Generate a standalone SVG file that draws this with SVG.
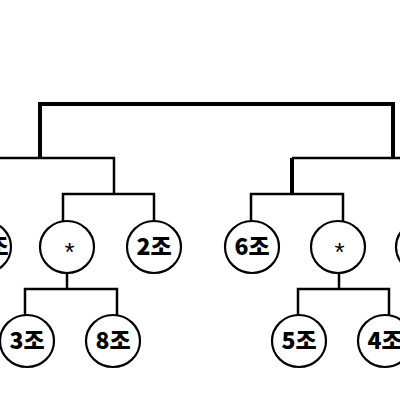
<svg xmlns="http://www.w3.org/2000/svg" width="400" height="400" viewBox="0 0 400 400">
<style>
.thin{fill:none;stroke:#000;stroke-width:2.5}
.thick{fill:none;stroke:#000;stroke-width:4}
.node ellipse{fill:#fff;stroke:#000;stroke-width:2.2}
.lbl{font-family:"Noto Sans CJK KR","Liberation Sans",sans-serif;font-weight:900;font-size:23px;text-anchor:middle;fill:#000}
.star{font-family:"Liberation Sans",sans-serif;font-size:26px;text-anchor:middle;fill:#000}
</style>
<rect width="400" height="400" fill="#fff"/>
<g id="connectors">
<path class="thick" d="M40,158 V104 H393 V158"/>
<path class="thin" d="M0,158 H114 V194"/>
<path class="thin" d="M63,221 V194 H154 V221"/>
<path class="thin" d="M67,272 V289 H25 V315 M67,289 H117 V315"/>
<path class="thin" d="M292,158 H400"/>
<path class="thick" d="M292,158 V195"/>
<path class="thin" d="M251,221 V194 H343 V221"/>
<path class="thin" d="M339,272 V289 H298 V315 M339,289 H389 V315"/>
</g>
<g id="n1" class="node"><ellipse cx="-16" cy="247" rx="27" ry="26"/><text class="lbl" x="-9" y="255">1조</text></g>
<g id="n2" class="node"><ellipse cx="67" cy="247" rx="27" ry="26"/><text class="star" x="69.5" y="261">*</text></g>
<g id="n3" class="node"><ellipse cx="154" cy="247" rx="27" ry="26"/><text class="lbl" x="154" y="255">2조</text></g>
<g id="n4" class="node"><ellipse cx="27" cy="341" rx="27" ry="26"/><text class="lbl" x="27" y="349">3조</text></g>
<g id="n5" class="node"><ellipse cx="113" cy="341" rx="27" ry="26"/><text class="lbl" x="113" y="349">8조</text></g>
<g id="n6" class="node"><ellipse cx="252" cy="247" rx="27" ry="26"/><text class="lbl" x="252" y="255">6조</text></g>
<g id="n7" class="node"><ellipse cx="338" cy="247" rx="27" ry="26"/><text class="star" x="339.5" y="261">*</text></g>
<g id="n8" class="node"><ellipse cx="423" cy="247" rx="27" ry="26"/><text class="lbl" x="423" y="255">7조</text></g>
<g id="n9" class="node"><ellipse cx="299" cy="341" rx="27" ry="26"/><text class="lbl" x="299" y="349">5조</text></g>
<g id="n10" class="node"><ellipse cx="385" cy="341" rx="27" ry="26"/><text class="lbl" x="385" y="349">4조</text></g>
</svg>
